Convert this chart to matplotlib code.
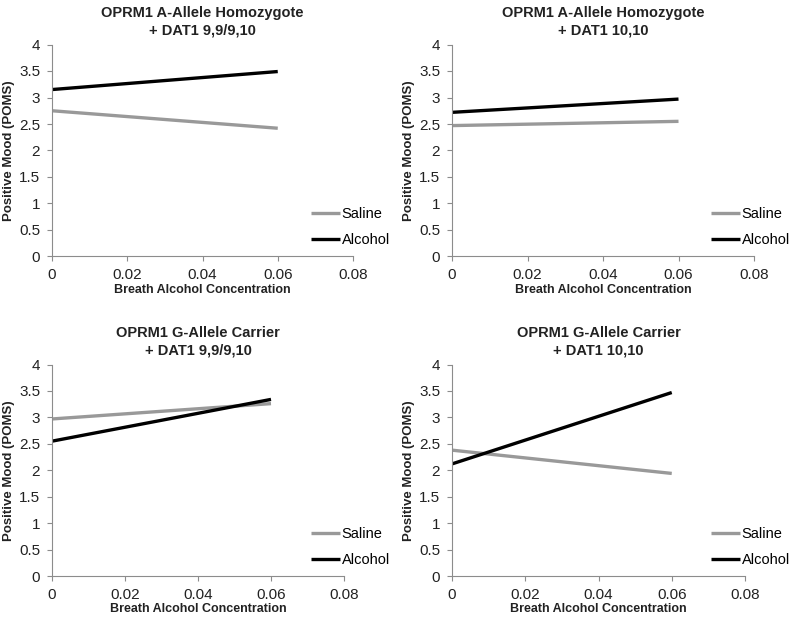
import matplotlib
matplotlib.use("Agg")
import matplotlib.pyplot as plt

plt.rcParams['font.family'] = ['Liberation Sans', 'DejaVu Sans']

# data
bac = [0, 0.06]
titles = [
    "OPRM1 A-Allele Homozygote\n+ DAT1 9,9/9,10",
    "OPRM1 A-Allele Homozygote\n+ DAT1 10,10",
    "OPRM1 G-Allele Carrier\n+ DAT1 9,9/9,10",
    "OPRM1 G-Allele Carrier\n+ DAT1 10,10",
]
saline = [
    [2.75, 2.42],
    [2.47, 2.55],
    [2.97, 3.26],
    [2.38, 1.94],
]
alcohol = [
    [3.15, 3.49],
    [2.72, 2.97],
    [2.55, 3.34],
    [2.12, 3.47],
]
x_ticks = [0, 0.02, 0.04, 0.06, 0.08]
y_ticks = [0, 0.5, 1, 1.5, 2, 2.5, 3, 3.5, 4]

W, H = 792, 617
fig = plt.figure(figsize=(W / 100, H / 100), dpi=100)

# axes boxes in pixels: (x0, x_end, y_top, y_bottom)
boxes = [
    (52, 353, 44.5, 256.5),
    (452, 754, 44.5, 256.5),
    (52, 344, 364.5, 576),
    (452, 745, 364.5, 576),
]
# legend anchor (left edge of handle, y between the two rows) in pixels
legend_pos = [(311, 227), (711, 227), (311, 547), (711, 547)]

spine_col = "#8c8c8c"

for i in range(4):
    x0, x1, yt, yb = boxes[i]
    ax = fig.add_axes([x0 / W, 1 - yb / H, (x1 - x0) / W, (yb - yt) / H])
    ax.plot(bac, saline[i], color="#999999", lw=2.4, label="Saline",
            solid_capstyle="butt")
    ax.plot(bac, alcohol[i], color="black", lw=2.4, label="Alcohol",
            solid_capstyle="butt")
    ax.set_xlim(0, 0.08)
    ax.set_ylim(0, 4)
    ax.set_xticks(x_ticks)
    ax.set_xticklabels(["0", "0.02", "0.04", "0.06", "0.08"])
    ax.set_yticks(y_ticks)
    ax.set_yticklabels(["0", "0.5", "1", "1.5", "2", "2.5", "3", "3.5", "4"])
    for s in ["top", "right"]:
        ax.spines[s].set_visible(False)
    for s in ["left", "bottom"]:
        ax.spines[s].set_color(spine_col)
        ax.spines[s].set_linewidth(0.8)
    ax.tick_params(axis="both", colors=spine_col, labelcolor="#222222",
                   labelsize=11, length=3.5, width=0.8)
    ax.tick_params(axis="x", pad=5)
    ax.tick_params(axis="y", pad=5)
    ax.set_xlabel("Breath Alcohol Concentration", fontsize=9, fontweight="bold",
                  labelpad=1, color="#222222")
    ax.set_ylabel("Positive Mood (POMS)", fontsize=9.5, fontweight="bold",
                  labelpad=3, color="#222222")
    ax.set_title(titles[i], fontsize=10.5, fontweight="bold", pad=7,
                 linespacing=1.3, color="#222222")
    lx, ly = legend_pos[i]
    ax.legend(loc="center left", bbox_to_anchor=(lx / W, 1 - ly / H),
              bbox_transform=fig.transFigure, frameon=False, fontsize=10.5,
              handlelength=2.0, handletextpad=0.1, labelspacing=0.8,
              borderpad=0, borderaxespad=0)

fig.savefig("out.png", dpi=100, facecolor="white")
